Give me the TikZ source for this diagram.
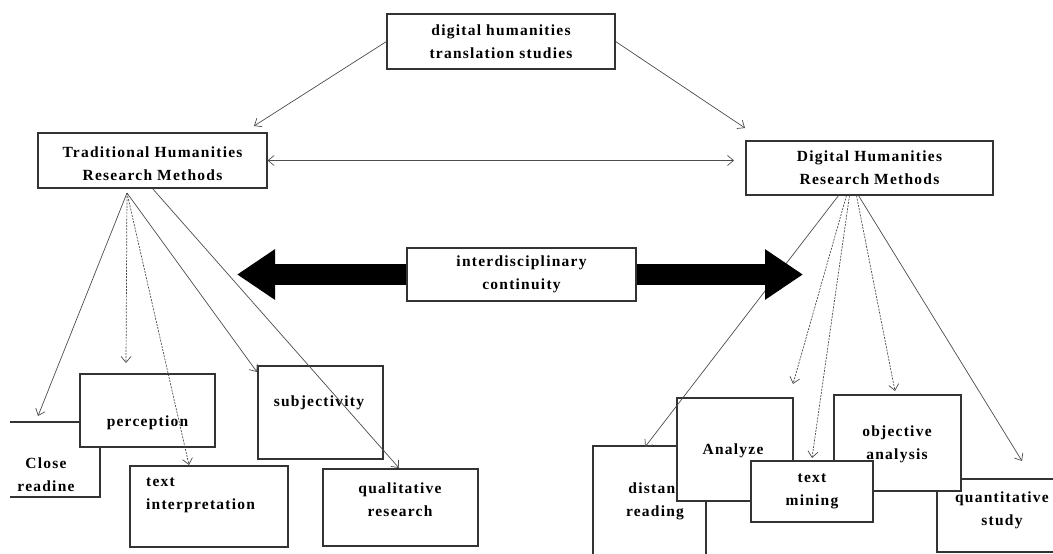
\documentclass[tikz,border=0pt]{standalone}
\usepackage{fontspec}
\setmainfont{Liberation Serif}[LetterSpace=8]
\usetikzlibrary{arrows.meta,calc}

\begin{document}
\begin{tikzpicture}[x=1pt,y=-1pt,
    box/.style={draw=black!80,line width=1.1pt,fill=white,inner sep=0pt},
    txt/.style={font=\fontsize{15.5}{23}\selectfont\bfseries,align=center,inner sep=0pt},
    link/.style={draw=black!70,line width=0.7pt,-{Straight Barb[length=6pt,width=10pt]}},
    dlink/.style={link,dash pattern=on 2pt off 1.2pt},
    twoway/.style={link,{Straight Barb[length=6pt,width=10pt]}-{Straight Barb[length=6pt,width=10pt]}},
    fat/.style={line width=21pt,-{Triangle[length=38pt,width=48pt]}}]
  \useasboundingbox (0,0) rectangle (1053,554);
  \clip (10,0) rectangle (1053,554);

  % upper part
  \node[box,minimum width=228,minimum height=55] (dht) at (501,41.5) {};
  \node[txt] at (dht) {digital humanities\\translation studies};
  \node[box,minimum width=229,minimum height=55] (thr) at (152.5,160.5) {};
  \node[txt] at ([yshift=-3pt]thr) {Traditional Humanities\\Research Methods};
  \node[box,minimum width=247,minimum height=54] (dhr) at (869.5,168) {};
  \node[txt] at (dhr) {Digital Humanities\\Research Methods};

  % traditional side
  \node[box,minimum width=120,minimum height=75] (cr) at (40,459.5) {};
  \node[txt] at ([shift={(6pt,-15pt)}]cr) {Close\\readine};
  \node[box,minimum width=135,minimum height=73] (pc) at (147.5,410.5) {};
  \node[txt] at ([yshift=-12pt]pc) {perception};
  \node[box,minimum width=158,minimum height=81] (ti) at (209,506.5) {};
  \node[txt,align=left,anchor=west] at (146,495.5) {text\\interpretation};
  \node[box,minimum width=125,minimum height=93] (sb) at (320.5,412.5) {};
  \node[txt] at (319,403) {subjectivity};
  \node[box,minimum width=155,minimum height=77] (qr) at (400.5,507.5) {};
  \node[txt] at (400,500) {qualitative\\research};

  % digital side
  \node[box,minimum width=113,minimum height=134] (ds) at (649.5,513) {};
  \node[txt] at (655,501.5) {distant\\reading};
  \node[box,minimum width=116,minimum height=103] (an) at (735,449.5) {};
  \node[txt] at (733,451) {Analyze};
  \node[box,minimum width=133,minimum height=73] (qs) at (1003.5,515.5) {};
  \node[txt] at (1002,510) {quantitative\\study};
  \node[box,minimum width=127,minimum height=96] (oa) at (897.5,443) {};
  \node[txt] at (897,444.5) {objective\\analysis};
  \node[box,minimum width=122,minimum height=61] (tm) at (812,491.5) {};
  \node[txt] at (tm) {text\\mining};

  % arrow ends
  \coordinate (thr-in) at (254,126);
  \coordinate (dhr-in) at (745,128);
  \coordinate (dhr-w) at (734,160.5);
  \coordinate (thr-root) at (127,193);
  \coordinate (cr-in) at (38,416);
  \coordinate (pc-in) at (126,363);
  \coordinate (ti-in) at (189,465);
  \coordinate (sb-in) at (257,372);
  \coordinate (qr-in) at (399,468);
  \coordinate (ds-in) at (645,447);
  \coordinate (an-in) at (793,384);
  \coordinate (tm-in) at (812,458);
  \coordinate (oa-in) at (895,391);
  \coordinate (qs-in) at (1022,461);

  \draw[link] (dht.west) -- (thr-in);
  \draw[link] (dht.east) -- (dhr-in);
  \draw[twoway] (thr.east) -- (dhr-w);

  \draw[link] (thr-root) -- (cr-in);
  \draw[dlink] (thr-root) -- (pc-in);
  \draw[dlink] (thr-root) -- (ti-in);
  \draw[link] (thr-root) -- (sb-in);
  \draw[link] (thr.south) -- (qr-in);

  \draw[link] ([xshift=-31pt]dhr.south) -- (ds-in);
  \draw[dlink] ([xshift=-23pt]dhr.south) -- (an-in);
  \draw[dlink] ([xshift=-20pt]dhr.south) -- (tm-in);
  \draw[dlink] ([xshift=-13pt]dhr.south) -- (oa-in);
  \draw[link] ([xshift=-11pt]dhr.south) -- (qs-in);

  % interdisciplinary continuity
  \node[box,minimum width=229,minimum height=53] (idc) at (521.5,274.5) {};
  \draw[fat] (idc.west) -- (237,274.5);
  \draw[fat] (idc.east) -- (803,274.5);
  \node[txt] at (idc) {interdisciplinary\\continuity};
\end{tikzpicture}
\end{document}
